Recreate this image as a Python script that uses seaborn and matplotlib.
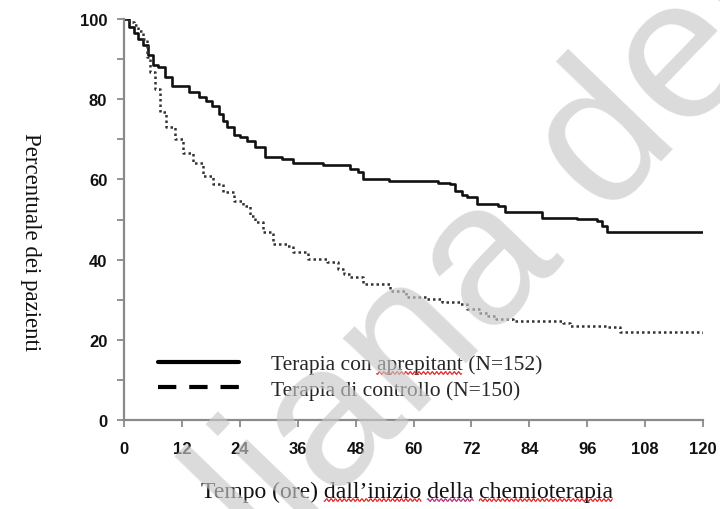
import numpy as np
import pandas as pd
import matplotlib
matplotlib.use("Agg")
import matplotlib.pyplot as plt
from matplotlib.lines import Line2D
from matplotlib.ticker import MultipleLocator
from matplotlib.transforms import IdentityTransform
import seaborn as sns

# Kaplan-Meier style curves (hours, % of patients)
apre_time = [0, 1, 2, 3, 4, 5, 6, 7, 8.5, 10, 13.5, 15.5, 17, 18.2, 19.6, 20.5,
             21.3, 22.7, 24, 25.4, 27.2, 29.2, 32.7, 35.1, 41.3, 46.8, 48.5, 49.6,
             55, 65, 67.6, 68.6, 70, 71, 73.1, 77.6, 79, 86.6, 93.8, 98, 99, 100, 120]
apre_pct = [100, 98, 96.5, 95, 93.5, 91, 88.5, 88, 85.5, 83.3, 81.7, 80.5, 79.5, 78.4,
            76.3, 74.5, 73, 71, 70.5, 69.7, 68, 65.5, 65, 64.2, 63.7, 62.5, 61.8, 60.1,
            59.7, 59.1, 58.9, 57.2, 56, 55.5, 53.9, 53.4, 51.8, 50.4, 50.1, 49.7, 48.5,
            47, 47]

ctrl_time = [0, 1, 2, 3, 4, 4.7, 5.4, 6.4, 7.5, 8.8, 10.6, 12.3, 14.4, 16.4, 18.5,
             20.6, 22.7, 24.7, 26.1, 27.2, 28.9, 30.9, 33.7, 35.1, 38.2, 42, 44.4,
             45.6, 46.8, 49.6, 55.1, 58.4, 62.7, 66, 69.6, 71, 73.8, 75.5, 77.2, 80.7,
             91, 92.4, 100, 102.8, 120]
ctrl_pct = [100, 99.3, 98.5, 97, 95, 90.4, 86.7, 82.5, 76.7, 73, 70, 66.7, 64.2, 60.9,
            58.9, 56.8, 54.7, 53.4, 50.9, 49.3, 46.8, 43.9, 43.5, 41.8, 40.1, 39.3, 37.7,
            36.5, 35.6, 33.9, 32.2, 30.6, 30.2, 29.4, 28.9, 27.7, 26.7, 26, 25.2, 24.8,
            24.3, 23.5, 23.1, 22, 21.8]

series_labels = ["Terapia con aprepitant (N=152)", "Terapia di controllo (N=150)"]
x_ticks = [0, 12, 24, 36, 48, 60, 72, 84, 96, 108, 120]
y_ticks = [0, 20, 40, 60, 80, 100]
x_title = "Tempo (ore) dall\u2019inizio della chemioterapia"
y_title = "Percentuale dei pazienti"

sns.set_theme(style="white")
plt.rcParams['font.family'] = ['Liberation Serif', 'DejaVu Serif']

fig = plt.figure(figsize=(7.2, 5.1), dpi=100)
ax = fig.add_axes([124 / 720, 1 - 421 / 510, 579 / 720, 401 / 510])

df_apre = pd.DataFrame({"t": apre_time, "pct": apre_pct})
df_ctrl = pd.DataFrame({"t": ctrl_time, "pct": ctrl_pct})

sns.lineplot(data=df_apre, x="t", y="pct", ax=ax, color="#111111", linewidth=1.9,
             drawstyle="steps-post", estimator=None)
sns.lineplot(data=df_ctrl, x="t", y="pct", ax=ax, color="#333333", linewidth=1.8,
             linestyle=(0, (1, 1.2)), drawstyle="steps-post", estimator=None)

ax.set_xlim(0, 120)
ax.set_ylim(0, 100)
ax.set_xticks(x_ticks)
ax.set_yticks(y_ticks)
ax.yaxis.set_minor_locator(MultipleLocator(10))
ax.set_xticklabels([str(v) for v in x_ticks])
ax.set_yticklabels([str(v) for v in y_ticks])

for lab in ax.get_xticklabels() + ax.get_yticklabels():
    lab.set_fontfamily("Liberation Sans")
    lab.set_fontweight("bold")
    lab.set_fontsize(12)
    lab.set_color("#111111")

for side in ["top", "right"]:
    ax.spines[side].set_visible(False)
for side in ["left", "bottom"]:
    ax.spines[side].set_color("#8a8a8a")
    ax.spines[side].set_linewidth(1.6)

ax.tick_params(axis="x", which="major", direction="out", length=5, width=1.3,
               color="#8a8a8a", pad=10, bottom=True)
ax.tick_params(axis="y", which="major", direction="out", length=5, width=1.3,
               color="#8a8a8a", pad=7, left=True)
ax.tick_params(axis="y", which="minor", direction="out", length=5, width=1.3,
               color="#8a8a8a", left=True)

ax.set_xlabel(x_title, fontsize=17, color="#111111", va="center")
ax.xaxis.set_label_coords(0.489, -0.177)
ax.set_ylabel(y_title, fontsize=16.5, rotation=-90,
              va="center", ha="center", color="#111111")
ax.yaxis.set_label_coords(-0.162, 0.446)

handles = [
    Line2D([0], [0], color="black", linewidth=3),
    Line2D([0], [0], color="black", linewidth=3, dashes=(4.4, 3.1)),
]
leg = ax.legend(handles, series_labels, loc="lower left", bbox_to_anchor=(0.058, 0.05),
                frameon=False, fontsize=15.5, handlelength=3.8, handletextpad=1.45,
                labelspacing=0.25, borderpad=0, borderaxespad=0)

# spell-check squiggles under some words, as in the source screenshot
fig.canvas.draw()
renderer = fig.canvas.get_renderer()


def squiggle(text_obj, word, color="#e02424"):
    s = text_obj.get_text()
    i = s.find(word)
    fp = text_obj.get_fontproperties()
    w_pre = renderer.get_text_width_height_descent(s[:i], fp, ismath=False)[0] if i > 0 else 0
    w_word = renderer.get_text_width_height_descent(word, fp, ismath=False)[0]
    bb = text_obj.get_window_extent(renderer)
    xs = np.arange(bb.x0 + w_pre, bb.x0 + w_pre + w_word, 1.0)
    ys = bb.y0 + 1.5 + 1.4 * np.sin(xs * np.pi / 2.2)
    fig.add_artist(Line2D(xs, ys, color=color, linewidth=0.9,
                          transform=IdentityTransform()))


squiggle(leg.get_texts()[0], "aprepitant")
xl = ax.xaxis.label
squiggle(xl, "dall\u2019inizio")
squiggle(xl, "della", color="#b0307a")
squiggle(xl, "chemioterapia")

# light watermark lying over the chart
fig.text(792 / 720, 1 - 27 / 510, "Italiana del", fontsize=145,
         family="Liberation Sans", color="#c8c8c8", alpha=0.65,
         rotation=46, rotation_mode="anchor", ha="right", va="baseline", zorder=10)

fig.savefig("out.png", dpi=100)
